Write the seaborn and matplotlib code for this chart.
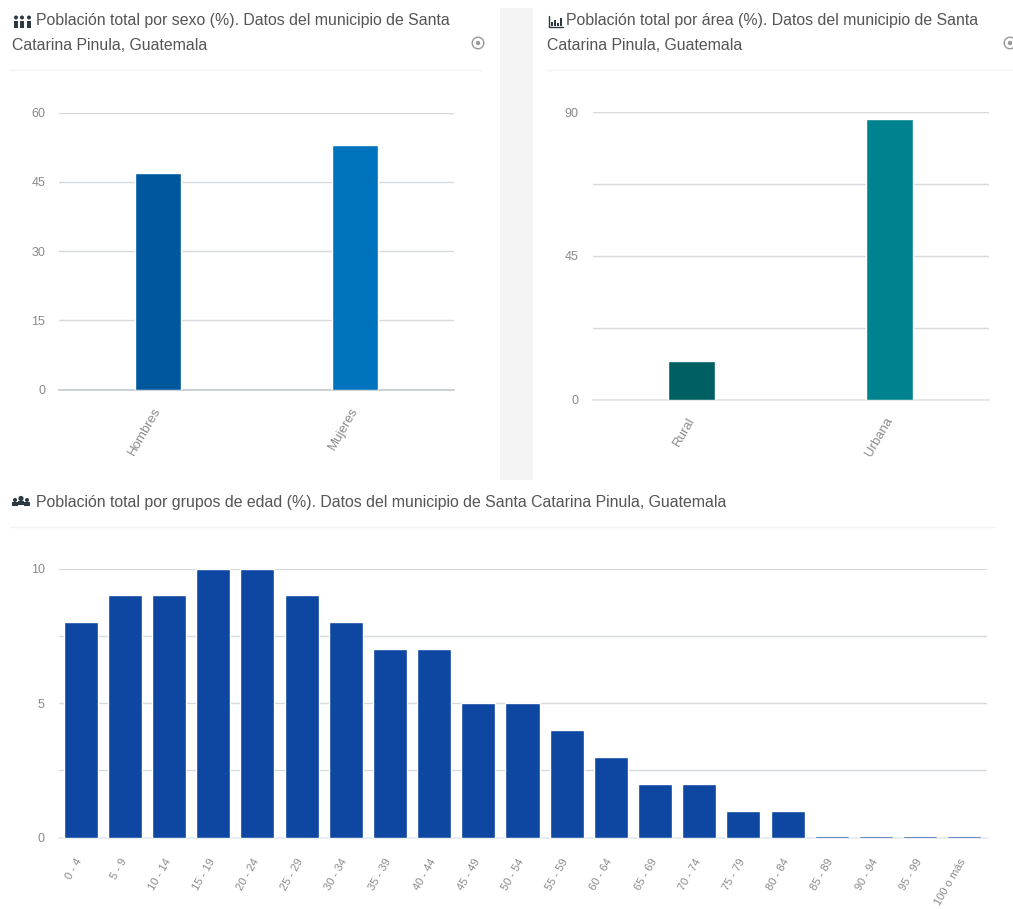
import matplotlib
matplotlib.use("Agg")
import matplotlib.pyplot as plt
from matplotlib.patches import Rectangle, Circle
from matplotlib.transforms import ScaledTranslation
import seaborn as sns
import pandas as pd

sns.set_theme(style="white")
plt.rcParams["font.family"] = ["Liberation Sans", "DejaVu Sans"]

W, H = 1013, 909

sexo_cat = ["Hombres", "Mujeres"]
sexo_val = [47, 53]
sexo_col = ["#00589c", "#0073bf"]
sexo_ticks = [0, 15, 30, 45, 60]
sexo_labels = ["0", "15", "30", "45", "60"]

area_cat = ["Rural", "Urbana"]
area_val = [12, 88]
area_col = ["#005f63", "#00838f"]
area_ticks = [0, 22.5, 45, 67.5, 90]
area_labels = ["0", "", "45", "", "90"]

edad_cat = ["0 - 4", "5 - 9", "10 - 14", "15 - 19", "20 - 24", "25 - 29", "30 - 34",
            "35 - 39", "40 - 44", "45 - 49", "50 - 54", "55 - 59", "60 - 64", "65 - 69",
            "70 - 74", "75 - 79", "80 - 84", "85 - 89", "90 - 94", "95 - 99", "100 o más"]
edad_val = [8, 9, 9, 10, 10, 9, 8, 7, 7, 5, 5, 4, 3, 2, 2, 1, 1, 0.06, 0.06, 0.06, 0.06]
edad_col = ["#0d47a1"] * len(edad_cat)
edad_ticks = [0, 2.5, 5, 7.5, 10]
edad_labels = ["0", "", "5", "", "10"]

titulo_sexo = ["Población total por sexo (%). Datos del municipio de Santa",
               "Catarina Pinula, Guatemala"]
titulo_area = ["Población total por área (%). Datos del municipio de Santa",
               "Catarina Pinula, Guatemala"]
titulo_edad = "Población total por grupos de edad (%). Datos del municipio de Santa Catarina Pinula, Guatemala"

fig = plt.figure(figsize=(W / 100, H / 100), dpi=100, facecolor="white")


def panel(box, cats, vals, cols, ticks, labels, top, width, xpad, xsize, base):
    """Draw one bar panel; box is (left, right, y_top, y_zero) in figure pixels."""
    l, r, yt, y0 = box
    ax = fig.add_axes([l / W, 1 - y0 / H, (r - l) / W, (y0 - yt) / H])
    df = pd.DataFrame({"cat": cats, "val": vals})
    sns.barplot(data=df, x="cat", y="val", hue="cat", palette=cols, width=width,
                dodge=False, legend=False, saturation=1, ax=ax, zorder=3)
    ax.set_xlim(-0.5, len(cats) - 0.5)
    ax.set_ylim(0, top)
    ax.set_yticks(ticks)
    ax.set_yticklabels(labels, fontsize=9, color="#8a8a8a")
    ax.set_xlabel("")
    ax.set_ylabel("")
    ax.grid(axis="y", color="#d6dadc", lw=1, zorder=0)
    ax.grid(axis="x", visible=False)
    ax.tick_params(axis="both", length=0)
    ax.tick_params(axis="y", pad=10)
    ax.tick_params(axis="x", pad=xpad)
    plt.setp(ax.get_xticklabels(), rotation=60, ha="right", rotation_mode="anchor",
             fontsize=xsize, color="#8a8a8a")
    # Nudge the slanted labels so their ends sit just left of the bar centres
    nudge = ScaledTranslation(-5 / 100, 0, fig.dpi_scale_trans)
    for lab in ax.get_xticklabels():
        lab.set_transform(lab.get_transform() + nudge)
    for s in ["top", "right", "left"]:
        ax.spines[s].set_visible(False)
    ax.spines["bottom"].set_color(base)
    ax.set_facecolor("none")
    return ax


# Full-figure layer in pixel units for the card chrome and header text
bg = fig.add_axes([0, 0, 1, 1], zorder=-1)
bg.set_xlim(0, W)
bg.set_ylim(H, 0)
bg.axis("off")
bg.add_patch(Rectangle((500, 8), 33, 472, color="#f4f4f4", lw=0))
for x0, x1, y in [(10, 482, 70), (547, 1013, 70), (10, 995, 527)]:
    bg.plot([x0, x1], [y, y], color="#f3f3f3", lw=1)

TXT = dict(fontsize=11.47, color="#555555", va="center", ha="left")
bg.text(36, 21, titulo_sexo[0], **TXT)
bg.text(12, 45, titulo_sexo[1], **TXT)
bg.text(566, 21, titulo_area[0], **TXT)
bg.text(547, 45, titulo_area[1], **TXT)
bg.text(36, 503, titulo_edad, **TXT)

# Small header pictograms
dark = "#2b3a42"
for x in (16, 22, 29):
    bg.add_patch(Circle((x, 17.5), 2, color=dark, lw=0))
    bg.add_patch(Rectangle((x - 2.2, 20.5), 4.4, 7, color=dark, lw=0))
bg.plot([549, 549, 563], [16, 27, 27], color=dark, lw=1)
for x, h in zip((551, 554, 557, 560), (4, 6, 3, 8)):
    bg.add_patch(Rectangle((x, 26 - h), 2, h, color=dark, lw=0))
for x, y, rad in [(15, 500, 2), (21, 498.5, 2.6), (27, 500, 2)]:
    bg.add_patch(Circle((x, y), rad, color=dark, lw=0))
    bg.add_patch(Rectangle((x - rad - 0.6, y + rad), 2 * rad + 1.2, 3.5, color=dark, lw=0))
for x in (478, 1010):
    bg.add_patch(Circle((x, 43), 5.8, fc="white", ec="#9a9a9a", lw=1))
    bg.add_patch(Circle((x, 43), 2.2, color="#9a9a9a", lw=0))

panel((59, 454, 112.5, 389.5), sexo_cat, sexo_val, sexo_col, sexo_ticks, sexo_labels, 60, 0.235, 11, 9.5, "#c6ccd2")
panel((592.5, 988.5, 112.5, 399.5), area_cat, area_val, area_col, area_ticks, area_labels, 90, 0.235, 11, 9.5, "#e0e4e7")
panel((58.5, 986.5, 568.5, 837.5), edad_cat, edad_val, edad_col, edad_ticks, edad_labels, 10, 0.77, 14, 8, "#e6eaee")

fig.savefig("out.png", dpi=100, facecolor="white")
